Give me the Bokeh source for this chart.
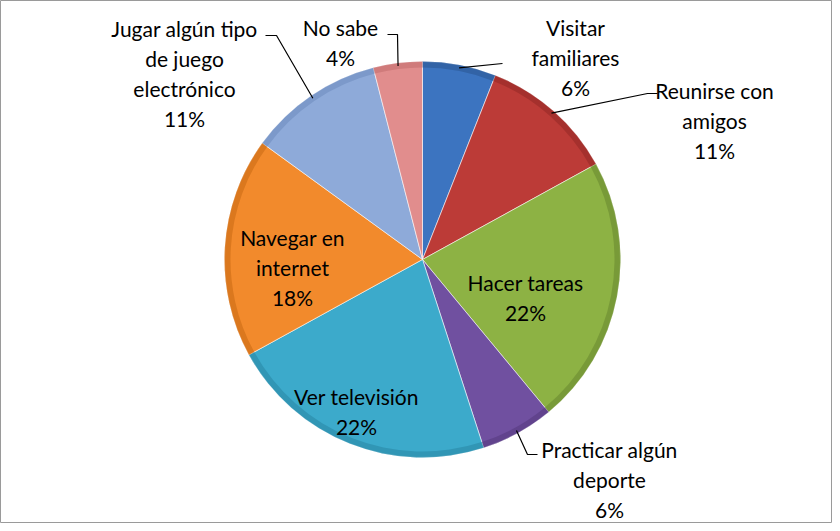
import math
from bokeh.plotting import figure
from bokeh.models import Range1d, ColumnDataSource
from bokeh.core.properties import value
from bokeh.embed import file_html
from bokeh.resources import INLINE

# ---- data ----
categories = ["Visitar familiares", "Reunirse con amigos", "Hacer tareas",
              "Practicar algún deporte", "Ver televisión", "Navegar en internet",
              "Jugar algún tipo de juego electrónico", "No sabe"]
shares = [6, 11, 22, 6, 22, 18, 11, 4]
label_lines = ["Visitar\nfamiliares", "Reunirse con\namigos", "Hacer tareas",
               "Practicar algún\ndeporte", "Ver televisión", "Navegar en\ninternet",
               "Jugar algún tipo\nde juego\nelectrónico", "No sabe"]
colors = ["#3C74C0", "#BC3B37", "#8DB244", "#7050A0", "#3CAACB", "#F28A2C", "#8EAAD9", "#E18D8D"]
rim_colors = ["#2B5894", "#962A27", "#6A8A30", "#563B80", "#2A88A6", "#CC6C16", "#6F8DBF", "#C46F6F"]

# ---- layout (page pixels) ----
W, H = 832, 523
CX, CY, R = 430, 267, 198
# label block centres (page px)
label_pos = [(583, 65), (722, 128), (533, 305), (617, 487),
             (364, 419), (300, 275), (192, 81), (348, 50)]
# leader line bend/end points (page px); None = no leader
leader_pts = [[(510, 71)],
              [(655, 101), (665, 101)],
              None,
              [(535, 462), (545, 462)],
              None, None,
              [(284, 43), (273, 43)],
              [(405, 42), (395, 42)]]

total = float(sum(shares))
starts, ends, mids = [], [], []
cum = 0.0
for s in shares:
    a0 = cum / total
    cum += s
    a1 = cum / total
    starts.append(math.pi / 2 - 2 * math.pi * a0)
    ends.append(math.pi / 2 - 2 * math.pi * a1)
    mids.append(2 * math.pi * (a0 + a1) / 2)

p = figure(width=W, height=H, output_backend="svg", toolbar_location=None,
           x_range=Range1d(8, 8 + W), y_range=Range1d(-(8 + H), -8),
           x_axis_type=None, y_axis_type=None, min_border=0,
           background_fill_color="white", border_fill_color="white")
p.grid.visible = False
p.outline_line_color = "#9A9A9A"
p.outline_line_width = 1

src = ColumnDataSource(dict(start=starts, end=ends, color=colors, rim=rim_colors))
p.wedge(x=CX, y=-CY, radius=R, start_angle="start", end_angle="end", direction="clock",
        fill_color="color", line_color="white", line_alpha=0.55, line_width=1, source=src)
# darker bevel rim
p.annular_wedge(x=CX, y=-CY, inner_radius=R - 6, outer_radius=R, start_angle="start",
                end_angle="end", direction="clock", fill_color="rim", fill_alpha=0.6,
                line_color=None, source=src)

# leader lines
xs, ys = [], []
for i, pts in enumerate(leader_pts):
    if pts is None:
        continue
    a = mids[i]
    ex = CX + R * 0.985 * math.sin(a)
    ey = CY - R * 0.985 * math.cos(a)
    xs.append([ex] + [q[0] for q in pts])
    ys.append([-ey] + [-q[1] for q in pts])
p.multi_line(xs=xs, ys=ys, line_color="black", line_width=1.2)

texts = [f"{l}\n{s}%" for l, s in zip(label_lines, shares)]
p.text(x=[q[0] for q in label_pos], y=[-q[1] for q in label_pos], text=texts,
       text_font=value("Lato"), text_font_size="21px", text_color="black",
       text_align="center", text_baseline="middle", text_line_height=1.2)

open("out.html", "w").write(file_html(p, INLINE))
